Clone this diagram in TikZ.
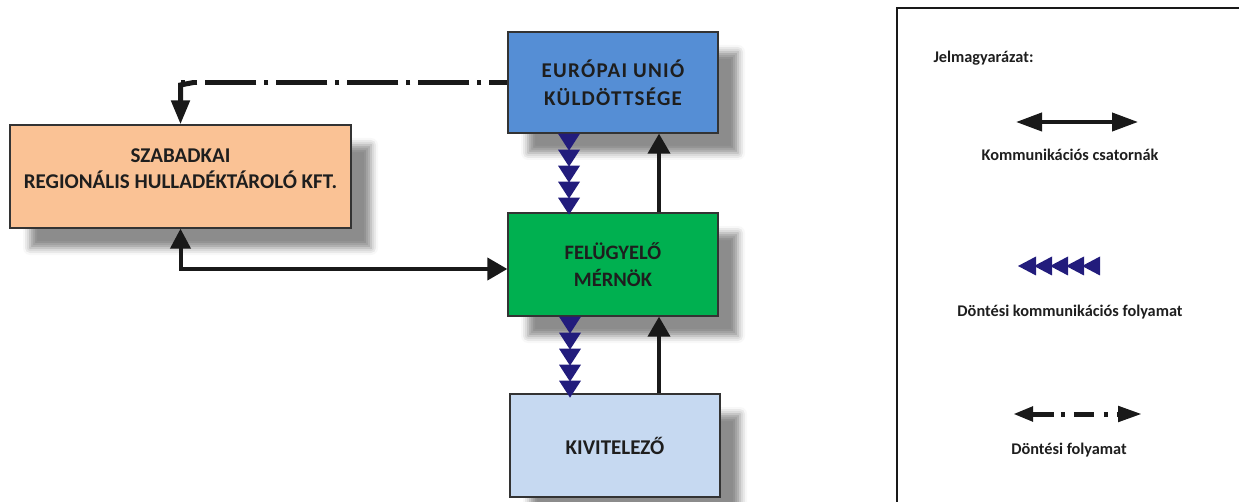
\documentclass[tikz,border=0pt]{standalone}
\usepackage{fontspec}
\setmainfont{Carlito}
\newfontfamily\spacedfont{Carlito}[LetterSpace=6]
\usetikzlibrary{arrows.meta,shadows.blur,calc}
\definecolor{eublue}{HTML}{558ED5}
\definecolor{peach}{HTML}{FAC295}
\definecolor{fmgreen}{HTML}{00B050}
\definecolor{kivblue}{HTML}{C6D9F1}
\definecolor{navy}{HTML}{221C7C}
\definecolor{txt}{HTML}{1E1E1E}
\tikzset{
  box/.style={draw=black!80, line width=1.3pt, align=center, text=txt,
    font=\bfseries\fontsize{20.5}{27}\selectfont,
    blur shadow={shadow xshift=20pt, shadow yshift=-20pt, shadow blur radius=7pt, shadow opacity=45}},
  arr/.style={line width=4pt, black!90, -{Triangle[length=20pt,width=22pt]}},
  darr/.style={line width=4pt, black!90, {Triangle[length=20pt,width=20pt]}-{Triangle[length=20pt,width=22pt]}},
  dashdotline/.style={line width=5pt, black!90, dash pattern=on 18pt off 8pt on 4pt off 8pt on 33pt off 0pt},
  legtext/.style={font=\bfseries\fontsize{16.3}{18}\selectfont, text=txt},
  chainfill/.style={fill=navy}
}
\begin{document}
\begin{tikzpicture}[x=1pt,y=-1pt]
\useasboundingbox (0,0) rectangle (1239,502);
\clip (0,0) rectangle (1239,502);

% boxes
\node[box, fill=eublue, minimum width=210pt, minimum height=101pt, font=\spacedfont\bfseries\fontsize{21}{28}\selectfont] (eu) at (613,82.5) {EURÓPAI UNIÓ\\KÜLDÖTTSÉGE};
\node[box, fill=peach, minimum width=341pt, minimum height=103pt, text depth=16pt, font=\bfseries\fontsize{21}{26}\selectfont] (szab) at (180.5,176.5) {SZABADKAI\\REGIONÁLIS HULLADÉKTÁROLÓ KFT.};
\node[box, fill=fmgreen, minimum width=210pt, minimum height=103pt] (fm) at (613,264.5) {FELÜGYELŐ\\MÉRNÖK};
\node[box, fill=kivblue, minimum width=210pt, minimum height=103pt, font=\bfseries\fontsize{21}{27}\selectfont] (kiv) at (615,445.5) {KIVITELEZŐ};

% dash-dot decision flow EU -> Szabadkai
\coordinate (corner) at (szab.north |- eu.west);
\draw[dashdotline] (eu.west) -- (corner);
\draw[line width=5pt, black!90, -{Triangle[length=24pt,width=18pt]}] ([xshift=13pt]corner) -- ([yshift=-2.5pt]corner) -- (szab.north);

% communication channel Szabadkai <-> FM
\coordinate (fmin) at ([yshift=-4.5pt]fm.west);
\draw[darr] (szab.south) -- (szab.south |- fmin) -- (fmin);

% up arrows
\coordinate (fmtop) at ([xshift=46pt]fm.north);
\draw[arr] (fmtop) -- (fmtop |- eu.south);
\coordinate (fmbot) at ([xshift=46pt]fm.south);
\draw[arr] (fmbot |- kiv.north) -- (fmbot);

% decision communication chains
\coordinate (c1) at ([xshift=-44pt]eu.south);
\foreach \k in {0,...,4}
  \fill[chainfill] ($(c1)+(-11,16*\k)$) -- ++(22,0) -- ++(-11,17) -- cycle;
\coordinate (c2) at ([xshift=-43pt]fm.south);
\foreach \k in {0,...,4}
  \fill[chainfill] ($(c2)+(-11,16*\k)$) -- ++(22,0) -- ++(-11,17) -- cycle;

% legend
\draw[line width=2pt, black!90] (897,8) rectangle (1260,520);
\node[legtext, anchor=west] (leg) at (930,58) {Jelmagyarázat:};

\coordinate (l1a) at (1016,122);
\coordinate (l1b) at (1138,122);
\draw[line width=4pt, black!90, {Triangle[length=26pt,width=18pt]}-{Triangle[length=26pt,width=18pt]}] (l1a) -- (l1b);
\node[legtext] (t1) at (1070,155) {Kommunikációs csatornák};

\coordinate (l2) at (1018,266);
\foreach \k in {0,...,4}
  \fill[chainfill] ($(l2)+(16*\k,0)$) -- ++(18,-9.5) -- ++(0,19) -- cycle;
\node[legtext] (t2) at (1070,312) {Döntési kommunikációs folyamat};

\coordinate (l3a) at (1013,414);
\coordinate (l3b) at (1142,414);
\draw[line width=5pt, black!90, dash pattern=on 22pt off 7pt on 4pt off 9pt on 20pt off 10pt on 4pt off 9pt,
  {Triangle[length=20pt,width=14pt]}-{Triangle[length=24pt,width=15pt]}] (l3a) -- (l3b);
\node[legtext] (t3) at (1069,450) {Döntési folyamat};
\end{tikzpicture}
\end{document}
